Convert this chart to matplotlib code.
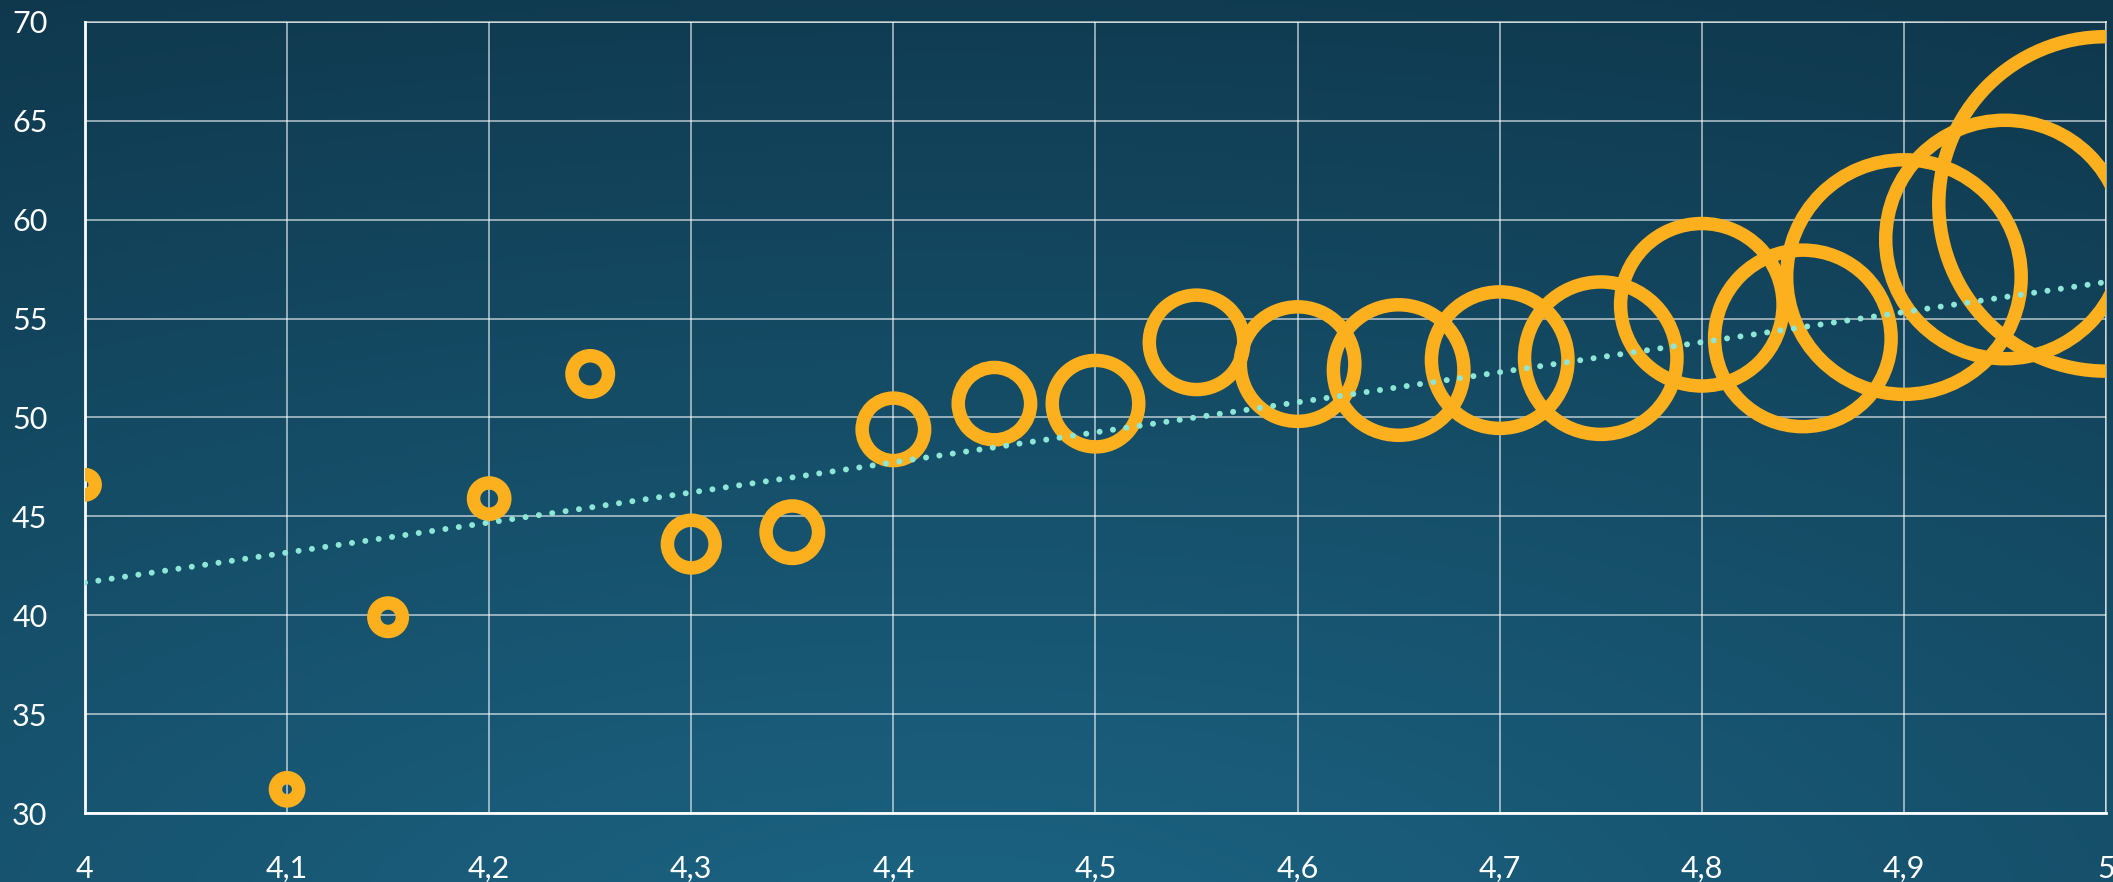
import numpy as np
import matplotlib
matplotlib.use("Agg")
import matplotlib.pyplot as plt
from matplotlib.ticker import FuncFormatter

x_vals = [4.0, 4.1, 4.15, 4.2, 4.25, 4.3, 4.35, 4.4, 4.45, 4.5,
          4.55, 4.6, 4.65, 4.7, 4.75, 4.8, 4.85, 4.9, 4.95, 5.0]
y_vals = [46.6, 31.2, 39.9, 45.9, 52.2, 43.6, 44.2, 49.4, 50.7, 50.7,
          53.8, 52.7, 52.4, 52.9, 53.0, 55.7, 54.0, 57.1, 59.0, 60.8]
weights = [1.05, 1.35, 2.03, 2.45, 3.33, 5.69, 6.89, 9.77, 13.1, 18.7,
           22.3, 32.8, 42.6, 46.6, 58.1, 66.0, 77.9, 137.5, 142.2, 279.7]
trend_x = [4.0, 5.0]
trend_y = [41.65, 56.85]
x_ticks = [4.0, 4.1, 4.2, 4.3, 4.4, 4.5, 4.6, 4.7, 4.8, 4.9, 5.0]
y_ticks = [30, 35, 40, 45, 50, 55, 60, 65, 70]

dpi = 100
fig = plt.figure(figsize=(21.13, 8.82), dpi=dpi)

# background gradient
bg = fig.add_axes([0, 0, 1, 1], zorder=-10)
gx, gy = np.meshgrid(np.linspace(0, 1, 400), np.linspace(0, 1, 200))
d = np.sqrt(((gx - 0.45) / 1.0) ** 2 + ((gy - 1.1) / 1.0) ** 2)
t = np.clip(d / 1.2, 0, 1)
c_light = np.array([28, 101, 133]) / 255
c_dark = np.array([15, 56, 77]) / 255
img = c_light[None, None, :] * (1 - t[..., None]) + c_dark[None, None, :] * t[..., None]
bg.imshow(img, aspect="auto", extent=[0, 1, 0, 1], origin="upper")
bg.axis("off")

ax = fig.add_axes([0.0402, 0.0782, 0.9565, 0.8969])
ax.set_facecolor("none")

radius_px = [10 * np.sqrt(w) for w in weights]
sizes = [(2 * r * 72 / dpi) ** 2 for r in radius_px]
ax.scatter(x_vals, y_vals, s=sizes, facecolors="none", edgecolors="#FDB01E",
           linewidths=9.7, zorder=3)

ax.plot(trend_x, trend_y, color="#8EE6D6", linewidth=4.3,
        linestyle=(0, (0.01, 2.25)), dash_capstyle="round", zorder=4)

ax.set_xlim(4.0, 5.0)
ax.set_ylim(30, 70)
ax.set_xticks(x_ticks)
ax.set_yticks(y_ticks)
ax.xaxis.set_major_formatter(FuncFormatter(lambda v, p: ("%g" % v).replace(".", ",")))
ax.grid(True, color="white", alpha=0.55, linewidth=1.4)
ax.set_axisbelow(True)
for s in ["top", "right"]:
    ax.spines[s].set_color((1, 1, 1, 0.55))
    ax.spines[s].set_linewidth(1.4)
for s in ["left", "bottom"]:
    ax.spines[s].set_color("white")
    ax.spines[s].set_linewidth(2)
ax.tick_params(length=0, colors="white", labelsize=22)
ax.tick_params(axis="x", pad=30)
ax.tick_params(axis="y", pad=27)
for lab in ax.get_xticklabels() + ax.get_yticklabels():
    lab.set_family("Lato")

fig.savefig("out.png", dpi=dpi)
